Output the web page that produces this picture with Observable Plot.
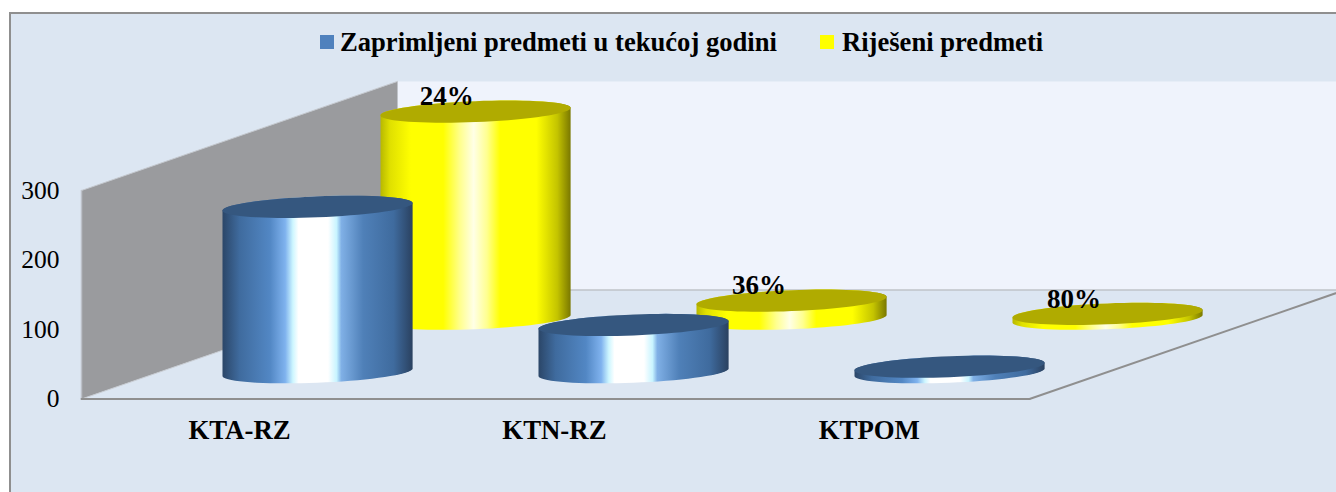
<!DOCTYPE html>
<html>
<head>
<meta charset="utf-8">
<script src="https://cdn.jsdelivr.net/npm/d3@7"></script>
<script src="https://cdn.jsdelivr.net/npm/@observablehq/plot@0.6"></script>
<style>
  html, body { margin: 0; padding: 0; background: #fff; overflow: hidden; }
  #page { position: relative; width: 1336px; height: 492px; overflow: hidden; font-family: "Liberation Serif", serif; color: #000; }
  #frame { position: absolute; left: 9px; top: 12px; width: 1340px; height: 490px; background: #dce6f2; border: 2px solid #8f8f8f; box-sizing: border-box; }
  #chart { position: absolute; left: 0; top: 0; }
  #legend { position: absolute; top: 25px; left: 0; height: 34px; font-weight: bold; font-size: 26.6px; line-height: 34px; white-space: nowrap; }
  #legend span.s { position: absolute; top: 10px; width: 14px; height: 14px; }
  #legend span.t { position: absolute; top: 0; }
</style>
</head>
<body>
<div id="page">
  <div id="frame"></div>
  <div id="chart"></div>
  <div id="legend"></div>
</div>
<script>
// ---- data ----
const categories = ["KTA-RZ", "KTN-RZ", "KTPOM"];
const received = [238, 68, 8];
const resolved = [298, 26, 7];
const resolvedShare = ["24%", "36%", "80%"];
const seriesNames = ["Zaprimljeni predmeti u tekućoj godini", "Riješeni predmeti"];
const yTicks = [0, 100, 200, 300];

// ---- oblique 3D projection, in data units ----
const depthValue = 157;             // one unit of depth rises by this many value units
const barDepthValue = 154;          // row rise of the cylinders, slightly less than the walls
const depthOf = [0.25, 0.75];       // depth of each series row
const radiusX = 0.283, radiusD = 0.102;
const project = (c, d, v) => ({x: c + d, y: v + d * depthValue});
const topValue = 300;
const nCat = categories.length;
const barCentre = i => i + 0.497;
const labelNudge = [0.012, 0, -0.003];

function ringPoint(i, d, v, t) {
  const p = project(barCentre(i) + radiusX * Math.cos(t), d + radiusD * Math.sin(t), v);
  p.y -= d * (depthValue - barDepthValue);
  return p;
}
const tEdge = Math.atan2(radiusD, radiusX);   // angle where the outline is widest
const steps = d3.range(0, 73);
function capOutline(i, d, v) { return steps.map(k => ringPoint(i, d, v, k / 72 * 2 * Math.PI)); }
function bodyOutline(i, d, v) {
  const front = d3.range(0, 37).map(k => ringPoint(i, d, 0, Math.PI + tEdge + k / 36 * Math.PI));
  const back = d3.range(0, 37).map(k => ringPoint(i, d, v, tEdge + k / 36 * Math.PI));
  return front.concat(back);
}

const rows = [
  {values: resolved, depth: depthOf[1], body: "url(#gy)", cap: "#b0ab00"},
  {values: received, depth: depthOf[0], body: "url(#gb)", cap: "#35577f"}
];

const gradient = (id, stops) => {
  const g = d3.create("svg:linearGradient").attr("id", id).attr("x1", 0).attr("x2", 1).attr("y1", 0).attr("y2", 0);
  stops.forEach(([o, c]) => g.append("stop").attr("offset", o).attr("stop-color", c));
  return g.node();
};
const defs = () => {
  const d = d3.create("svg:defs");
  d.node().appendChild(gradient("gb", [[0, "#2b4668"], [.09, "#3f6b9e"], [.25, "#5287c4"], [.33, "#7fb2ee"], [.37, "#cdf6ff"], [.40, "#fff"], [.555, "#fff"], [.60, "#c8f4ff"], [.625, "#80b0e6"], [.74, "#4f80b8"], [.9, "#3f6b9e"], [1, "#2a4160"]]));
  d.node().appendChild(gradient("gy", [[0, "#b8b800"], [.05, "#e0e000"], [.16, "#ffff00"], [.33, "#ffff00"], [.42, "#ffff90"], [.49, "#ffffe6"], [.56, "#ffff90"], [.63, "#ffff00"], [.82, "#ffff00"], [.93, "#c4c400"], [1, "#7a7800"]]));
  return d.node();
};

const poly = (pts, fill) => Plot.line(pts, {x: "x", y: "y", fill, stroke: "none", curve: "linear"});
const seg = (a, b, stroke, strokeWidth) => Plot.line([a, b], {x: "x", y: "y", stroke, strokeWidth});

const marks = [
  defs,
  // back wall, side wall and floor
  poly([project(nCat, 1, 0), project(0, 1, 0), project(0, 1, topValue), project(nCat + 1, 1, topValue), project(nCat + 1, 1, 0)], "#eff3fc"),
  poly([project(0, 0, 0), project(0, 0, topValue), project(0, 1, topValue), project(0, 1, 0)], "#9a9b9e"),
  poly([project(0, 0, 0), project(nCat, 0, 0), project(nCat, 1, 0), project(0, 1, 0)], "#dce6f2"),
  seg(project(0, 1, 0), project(nCat + 1, 1, 0), "#bfc3c9", 1.5),
  seg(project(0, 0, 0), project(0, 0, topValue), "#bcc0c8", 1.5),
  seg(project(0, 0, topValue), project(0, 1, topValue), "#c4c8ce", 1),
  seg(project(0, 0, 0), project(0, 1, 0), "#c8ccd2", 1),
  seg(project(0, 0, 0), project(nCat, 0, 0), "#8f8f8f", 2),
  seg(project(nCat, 0, 0), project(nCat, 1, 0), "#8f8f8f", 2),
];
for (const r of rows) {
  r.values.forEach((v, i) => {
    marks.push(poly(bodyOutline(i, r.depth, v), r.body));
    marks.push(poly(capOutline(i, r.depth, v), r.cap));
  });
}
marks.push(
  Plot.axisY({ticks: yTicks, tickSize: 0, anchor: "left", label: null, tickPadding: 0, fontSize: 25.5, fill: "#000"}),
  Plot.text(categories, {x: (d, i) => 0.5 + i * 0.9965, y: -45, text: d => d, fontWeight: "bold", fontSize: 26.8}),
  Plot.text(resolvedShare, {
    x: (d, i) => barCentre(i) + depthOf[1] + labelNudge[i],
    y: (d, i) => resolved[i] + depthOf[1] * barDepthValue,
    text: d => d, dx: -32.5, dy: -15, fontWeight: "bold", fontSize: 27
  })
);

const chart = Plot.plot({
  width: 1336, height: 492,
  marginLeft: 59, marginRight: 0, marginTop: 0, marginBottom: 0,
  x: {type: "linear", domain: [0, 3], range: [81, 1029], axis: null},
  y: {type: "linear", domain: [0, 300], range: [398.5, 190], axis: null},
  style: {background: "transparent", fontFamily: "Liberation Serif", color: "#000", overflow: "hidden"},
  marks
});
document.getElementById("chart").appendChild(chart);

// ---- legend ----
const legend = d3.select("#legend");
[["#4f81bd", 320, 340], ["#ffff00", 820, 842]].forEach(([c, sx, tx], i) => {
  legend.append("span").attr("class", "s").style("left", sx + "px").style("background", c);
  legend.append("span").attr("class", "t").style("left", tx + "px").text(seriesNames[i]);
});
</script>
</body>
</html>
